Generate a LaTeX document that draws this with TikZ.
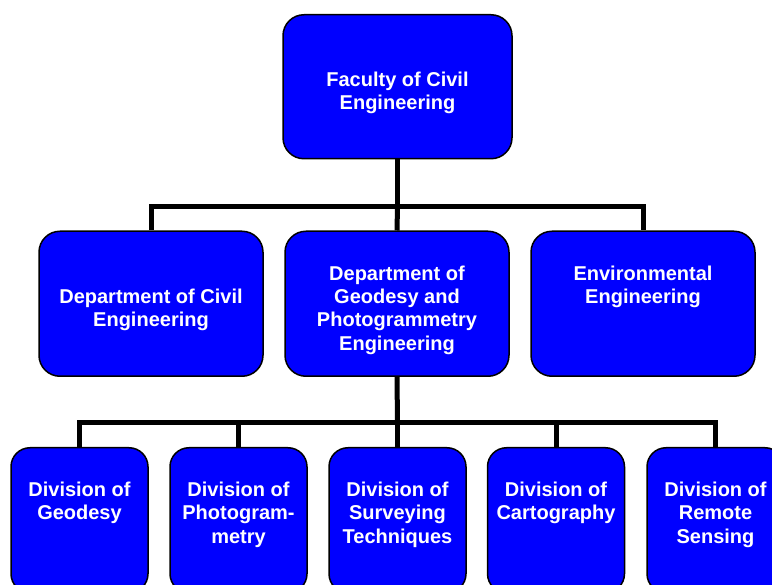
\documentclass[tikz,border=0pt]{standalone}
\usepackage{fontspec}
\setmainfont{Liberation Sans}
\usetikzlibrary{positioning}
\begin{document}
\begin{tikzpicture}[x=1pt,
y=-1pt,
box/.style={
draw,
line width=1.5pt,
fill=blue,
rounded corners=21pt,
minimum height=145pt,
minimum width=224pt,
anchor=north,
inner sep=0pt,
},
division/.style={
box,
minimum width=137pt,
rounded corners=19pt,
},
txt/.style={
text=white,
align=center,
inner sep=0pt,
font=\fontsize{20}{23.3}\selectfont\bfseries,
},
link/.style={
line width=5pt,
line join=miter,
}]

\useasboundingbox (0,0) rectangle (772,585);
\clip (0,0) rectangle (772,585);

%Faculty box
\node[box,minimum width=229pt,minimum height=144pt](fac)at(397.5,14){};
\node[txt,below=58pt of fac.north](facT){Faculty of Civil\\Engineering};

%Departments
\node[box](civ)at(151,230.5){};
\node[txt,below=58pt of civ.north](civT){Department of Civil\\Engineering};
\node[box](geo)at(397,230.5){};
\node[txt,below=35pt of geo.north](geoT){Department of\\Geodesy and\\Photogrammetry\\Engineering};
\node[box](env)at(643,230.5){};
\node[txt,below=35pt of env.north](envT){Environmental\\Engineering};

%Divisions of geodesy
\node[division](dgeo)at(79.5,447){};
\node[txt,below=35pt of dgeo.north](dgeoT){Division of\\Geodesy};
\node[division](dpho)at(238.5,447){};
\node[txt,below=35pt of dpho.north](dphoT){Division of\\Photogram-\\metry};
\node[division](dsur)at(397.5,447){};
\node[txt,below=35pt of dsur.north](dsurT){Division of\\Surveying\\Techniques};
\node[division](dcar)at(556,447){};
\node[txt,below=35pt of dcar.north](dcarT){Division of\\Cartography};
\node[division](drem)at(715.5,447){};
\node[txt,below=35pt of drem.north](dremT){Division of\\Remote\\Sensing};

%links
\coordinate(topbus)at(397.5,207);
\draw[link](fac.south)--(topbus);
\draw[link](civ.north)|-(topbus)-|(env.north);
\draw[link](topbus)--(geo.north);

\coordinate(lowbus)at(397.5,423);
\draw[link](geo.south)--(lowbus);
\draw[link](dgeo.north)|-(lowbus)-|(drem.north);
\draw[link](dpho.north)--(dpho.north|-lowbus);
\draw[link](dsur.north)--(dsur.north|-lowbus);
\draw[link](dcar.north)--(dcar.north|-lowbus);
\end{tikzpicture}
\end{document}
